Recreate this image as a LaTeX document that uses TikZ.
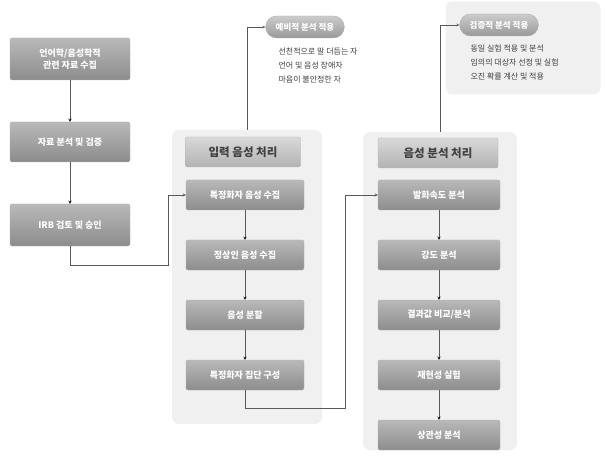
\documentclass[tikz,border=0pt]{standalone}
\usepackage{fontspec}
\setmainfont{Noto Sans CJK KR}
\usetikzlibrary{positioning}

\begin{document}
\begin{tikzpicture}[x=1pt,y=1pt,->,>=stealth,thin,node distance=60pt,
  box/.style={rounded corners=2pt,minimum width=120pt,minimum height=30pt,top color=gray!55,bottom color=gray!90,draw=gray!60,text=white,font=\bfseries\fontsize{9}{12}\selectfont,align=center},
  title node/.style={box,top color=gray!30,bottom color=gray!60,text=black!75,font=\bfseries\fontsize{11.5}{13}\selectfont},
  panel/.style={rounded corners=7pt,fill=gray!12,draw=none},
  bubble/.style={rounded corners=11pt,minimum height=22pt,inner xsep=10pt,top color=gray!40,bottom color=gray!80,draw=gray!65,text=white,font=\bfseries\fontsize{8.5}{10}\selectfont},
  note/.style={align=left,text=black!75,font=\fontsize{8}{14}\selectfont}]
            \useasboundingbox (0,0) rectangle (605,-457);

            \node[panel,minimum width=150pt,minimum height=294pt] (p1) at (247,-277) {};
            \node[panel,minimum width=154pt,minimum height=318pt] (p2) at (440,-291) {};
            \node[panel,minimum width=155pt,minimum height=93pt] (p3) at (523,-48) {};

            \node[box,minimum height=42pt] (1) at (70,-59) {언어학/음성학적\\관련 자료 수집};
            \node[box,minimum height=40pt] (2) at (70,-142) {자료 분석 및 검증};
            \node[box,minimum height=42pt] (3) at (70,-225) {IRB 검토 및 승인};

            \node[title node,minimum width=115pt] (4) at (243,-152) {입력 음성 처리};
            \node[box,minimum width=118pt] (5) at (245,-195) {특정화자 음성 수집};
            \node[box,minimum width=118pt] (6) [below of=5] {정상인 음성 수집};
            \node[box,minimum width=118pt] (7) [below of=6] {음성 분할};
            \node[box,minimum width=118pt] (8) [below of=7] {특정화자 집단 구성};

            \node[title node] (9) at (438,-153) {음성 분석 처리};
            \node[box,minimum width=122pt] (10) at (439,-195) {발화속도 분석};
            \node[box,minimum width=122pt] (11) [below of=10] {강도 분석};
            \node[box,minimum width=122pt] (12) [below of=11] {결과값 비교/분석};
            \node[box,minimum width=122pt] (13) [below of=12] {재현성 실험};
            \node[box,minimum width=122pt] (14) [below of=13] {상관성 분석};

            \node[bubble] (b1) at (305,-27) {예비적 분석 적용};
            \node[note,anchor=north west] (n1) at (275,-44) {선천적으로 말 더듬는 자\\언어 및 음성 장애자\\마음이 불안정한 자};
            \node[bubble] (b2) at (499,-25) {검증적 분석 적용};
            \node[note,anchor=north west] (n2) at (467,-41) {동일 실험 적용 및 분석\\임의의 대상자 선정 및 실험\\오진 확률 계산 및 적용};

            \coordinate (c1) at (168,-265);
            \coordinate (c2) at (345,-408);

            \path[draw=black!65]
                (1) edge (2)
                (2) edge (3)
                (5) edge (6)
                (6) edge (7)
                (7) edge (8)
                (10) edge (11)
                (11) edge (12)
                (12) edge (13)
                (13) edge (14)
                ;
            \draw[black!65] (3) |- (c1) |- (5);
            \draw[black!65] (8) |- (c2) |- (10);
            \draw[black!65] (p1) |- (b1);
            \draw[black!65] (p2) |- (b2);
        \end{tikzpicture}
\end{document}
